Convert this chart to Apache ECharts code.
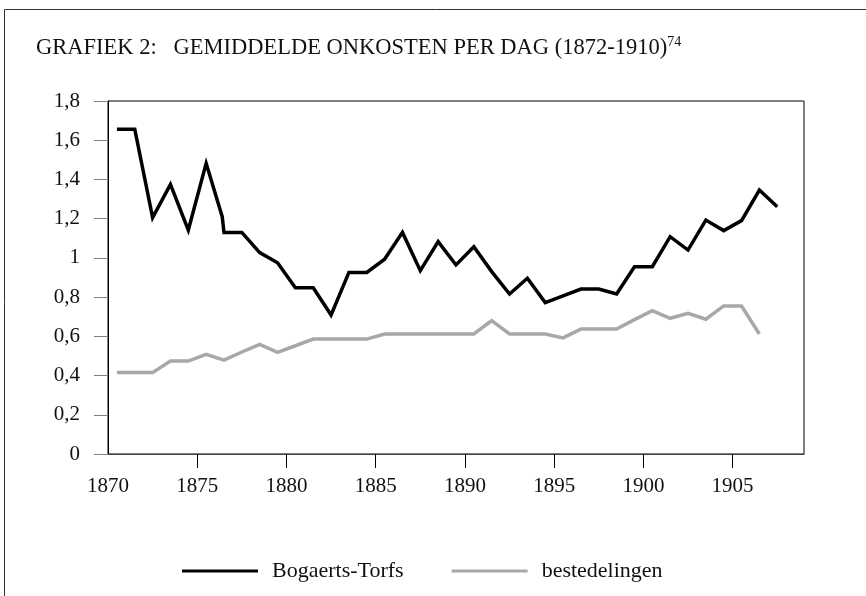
<!DOCTYPE html>
<html>
<head>
<meta charset="utf-8">
<script src="https://cdn.jsdelivr.net/npm/echarts@6/dist/echarts.min.js"></script>
<style>
  html, body { margin: 0; padding: 0; background: #fff; }
  #chart { width: 866px; height: 596px; }
</style>
</head>
<body>
<div id="chart"></div>
<script>
// Data (points sit in the middle of each year)
const bogaertsYears = [1870.5, 1871.5, 1872.5, 1873.5, 1874.5, 1875.5, 1876.4, 1876.5, 1877.5, 1878.5,
    1879.5, 1880.5, 1881.5, 1882.5, 1883.5, 1884.5, 1885.5, 1886.5, 1887.5, 1888.5,
    1889.5, 1890.5, 1891.5, 1892.5, 1893.5, 1894.5, 1895.5, 1896.5, 1897.5, 1898.5,
    1899.5, 1900.5, 1901.5, 1902.5, 1903.5, 1904.5, 1905.5, 1906.5, 1907.5];
const bogaertsTorfs = [1.656, 1.656, 1.205, 1.375, 1.142, 1.482, 1.21, 1.13, 1.13, 1.027,
    0.975, 0.848, 0.848, 0.709, 0.926, 0.926, 0.993, 1.13, 0.935, 1.083,
    0.964, 1.057, 0.93, 0.816, 0.896, 0.772, 0.806, 0.841, 0.841, 0.816,
    0.955, 0.955, 1.108, 1.04, 1.193, 1.139, 1.19, 1.346, 1.261];

const bestedelingenYears = [1870.5, 1871.5, 1872.5, 1873.5, 1874.5, 1875.5, 1876.5, 1877.5, 1878.5, 1879.5,
    1880.5, 1881.5, 1882.5, 1883.5, 1884.5, 1885.5, 1886.5, 1887.5, 1888.5, 1889.5,
    1890.5, 1891.5, 1892.5, 1893.5, 1894.5, 1895.5, 1896.5, 1897.5, 1898.5, 1899.5,
    1900.5, 1901.5, 1902.5, 1903.5, 1904.5, 1905.5, 1906.5];
const bestedelingen = [0.415, 0.415, 0.415, 0.474, 0.474, 0.508, 0.479, 0.52, 0.559, 0.518,
    0.552, 0.586, 0.586, 0.586, 0.586, 0.612, 0.612, 0.612, 0.612, 0.612,
    0.612, 0.68, 0.612, 0.612, 0.612, 0.592, 0.637, 0.637, 0.637, 0.685,
    0.731, 0.692, 0.717, 0.687, 0.755, 0.755, 0.612];

const xLabels = [1870, 1875, 1880, 1885, 1890, 1895, 1900, 1905];
const xTicks = [1875, 1880, 1885, 1890, 1895, 1900, 1905];

const FONT = '"Liberation Serif", "DejaVu Serif", serif';

const chart = echarts.init(document.getElementById('chart'));

function pairs(xs, ys) {
    return xs.map((x, i) => [x, ys[i]]);
}

chart.setOption({
    animation: false,
    backgroundColor: '#fff',
    textStyle: { fontFamily: FONT, color: '#111' },
    graphic: [{
        type: 'rect',
        z: -1,
        shape: { x: 4.5, y: 9.5, width: 900, height: 700 },
        style: { fill: 'none', stroke: '#333', lineWidth: 1 }
    }],
    title: {
        left: 31,
        top: 30,
        text: '{t|GRAFIEK 2:   GEMIDDELDE ONKOSTEN PER DAG (1872-1910)}{s|74}',
        textStyle: {
            rich: {
                t: { fontFamily: FONT, fontSize: 22.5, fontWeight: 'normal', color: '#111', lineHeight: 26 },
                s: { fontFamily: FONT, fontSize: 14, fontWeight: 'normal', color: '#111', lineHeight: 26, padding: [0, 0, 12, 0] }
            }
        }
    },
    grid: {
        left: 108, right: 62, top: 101, bottom: 142,
        show: true, borderColor: '#000', borderWidth: 1
    },
    legend: {
        left: 177,
        top: 555,
        icon: 'rect',
        itemWidth: 76,
        itemHeight: 3,
        itemGap: 48,
        textStyle: { fontFamily: FONT, fontSize: 22, color: '#111', padding: [0, 0, 0, 9] },
        data: ['Bogaerts-Torfs', 'bestedelingen']
    },
    xAxis: {
        type: 'value',
        min: 1870,
        max: 1909,
        interval: 5,
        splitLine: { show: false },
        axisLine: { show: true, lineStyle: { color: '#444', width: 1 } },
        axisTick: { show: true, length: 14, customValues: xTicks, lineStyle: { color: '#000' } },
        axisLabel: {
            customValues: xLabels,
            margin: 22,
            fontSize: 21,
            fontFamily: FONT,
            color: '#111',
            formatter: v => String(v)
        }
    },
    yAxis: {
        type: 'value',
        min: 0,
        max: 1.8,
        interval: 0.2,
        splitLine: { show: false },
        axisLine: { show: true, lineStyle: { color: '#000', width: 1 } },
        axisTick: { show: true, length: 14, lineStyle: { color: '#808080' } },
        axisLabel: {
            margin: 28,
            fontSize: 21,
            fontFamily: FONT,
            color: '#111',
            formatter: v => String(Math.round(v * 10) / 10).replace('.', ',')
        }
    },
    series: [
        {
            name: 'Bogaerts-Torfs',
            type: 'line',
            data: pairs(bogaertsYears, bogaertsTorfs),
            symbol: 'none',
            lineStyle: { color: '#000', width: 3.5, join: 'miter' },
            itemStyle: { color: '#000' }
        },
        {
            name: 'bestedelingen',
            type: 'line',
            data: pairs(bestedelingenYears, bestedelingen),
            symbol: 'none',
            lineStyle: { color: '#a8a8a8', width: 3.5, join: 'miter' },
            itemStyle: { color: '#a8a8a8' }
        }
    ]
});
</script>
</body>
</html>
